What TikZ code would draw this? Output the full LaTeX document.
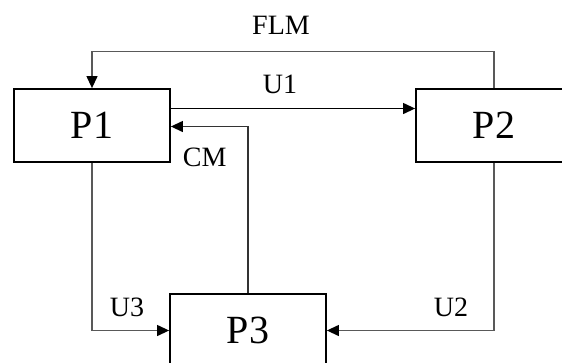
\documentclass[tikz,border=0pt]{standalone}
\usepackage{fontspec}
\setmainfont{Liberation Serif}
\usetikzlibrary{arrows.meta}
\tikzset{
    proc/.style={draw, line width=1.8pt, minimum width=156pt, minimum height=73pt,
        inner sep=0pt, font=\fontsize{40}{40}\selectfont},
    link/.style={->, line width=1.2pt, draw=black!65},
    lbl/.style={anchor=base, inner sep=0pt, font=\fontsize{28}{28}\selectfont}
}
\begin{document}
\begin{tikzpicture}[x=1pt, y=1pt, >={Triangle[length=12pt, width=11pt, color=black]}]
    \useasboundingbox (0,0) rectangle (562,-362);

    \node[proc] (P1) at (92,-125.5) {P1};
    \node[proc] (P2) at (494,-125.5) {P2};
    \node[proc] (P3) at (248,-330.5) {P3};

    \draw[link] (P2.north) -- ++(0,37) -| (P1.north);
    \draw[link, draw=black] ([yshift=17pt]P1.east) -- ([yshift=17pt]P2.west);
    \draw[link, draw=black!80] (P3.north) |- ([yshift=-1pt]P1.east);
    \draw[link] (P1.south) |- (P3.west);
    \draw[link] (P2.south) |- (P3.east);

    \node[lbl] (flm) at (281,-34.3) {FLM};
    \node[lbl] (u1) at (280,-93.3) {U1};
    \node[lbl] (cm) at (204.7,-166.7) {CM};
    \node[lbl] (u3) at (127,-316.7) {U3};
    \node[lbl] (u2) at (451,-316) {U2};
\end{tikzpicture}
\end{document}
